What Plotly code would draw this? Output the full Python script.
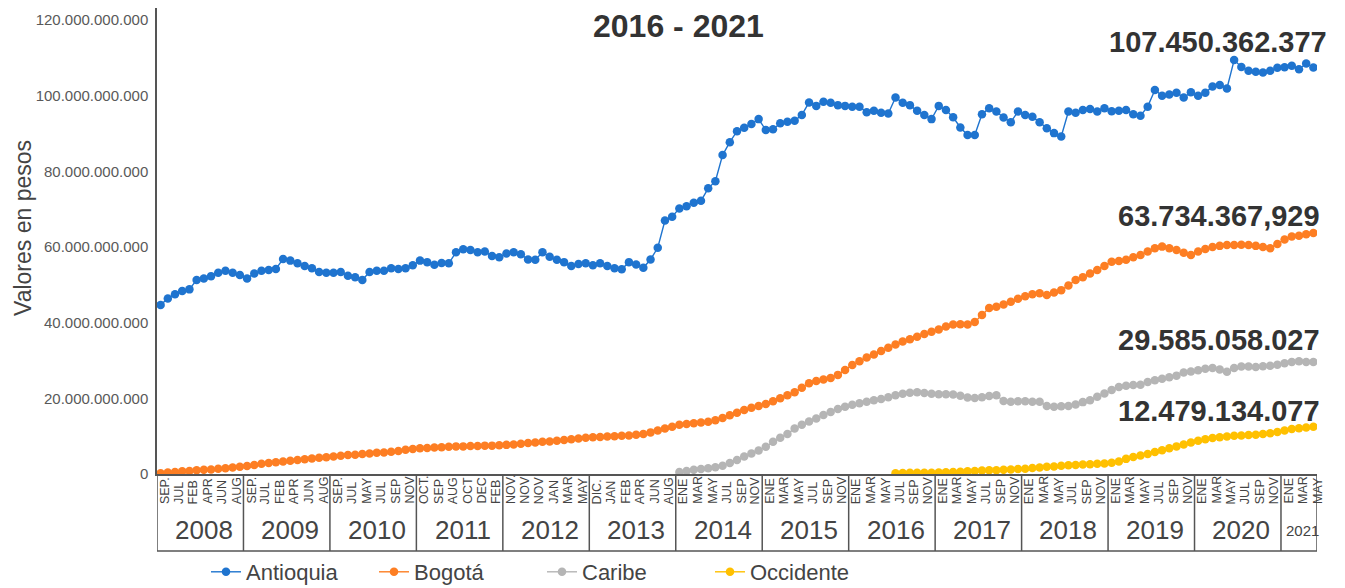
import plotly.graph_objects as go

# ---------------- data ----------------
years = ["2008", "2009", "2010", "2011", "2012", "2013", "2014",
         "2015", "2016", "2017", "2018", "2019", "2020", "2021"]
year_points = [12, 12, 12, 12, 12, 12, 12, 12, 12, 12, 12, 12, 12, 5]
month_labels = [
    ["SEP.", "JUL", "FEB", "APR", "JUN", "AUG"],
    ["SEP.", "JUL", "FEB", "APR", "JUN", "AUG"],
    ["SEP.", "JUL", "MAY", "JUL", "SEP", "NOV"],
    ["OCT.", "SEP", "AUG", "OCT", "DEC", "FEB"],
    ["NOV.", "NOV", "NOV", "JAN", "MAR", "MAY"],
    ["DIC.", "JAN", "FEB", "APR", "JUN", "AUG"],
    ["ENE", "MAR", "MAY", "JUL", "SEP", "NOV"],
    ["ENE", "MAR", "MAY", "JUL", "SEP", "NOV"],
    ["ENE", "MAR", "MAY", "JUL", "SEP", "NOV"],
    ["ENE", "MAR", "MAY", "JUL", "SEP", "NOV"],
    ["ENE", "MAR", "MAY", "JUL", "SEP", "NOV"],
    ["ENE", "MAR", "MAY", "JUL", "SEP", "NOV"],
    ["ENE", "MAR", "MAY", "JUL", "SEP", "NOV"],
    ["ENE", "MAR", "MAY"],
]

# values in miles de millones de pesos (x 1e9)
antioquia = [
    44.7, 46.4, 47.5, 48.4, 48.8, 51.3, 51.7, 52.3, 53.2, 53.7, 53.2, 52.6,
    51.7, 53.0, 53.7, 53.9, 54.2, 56.8, 56.4, 55.7, 55.0, 54.4, 53.4, 53.2,
    53.2, 53.4, 52.4, 52.0, 51.3, 53.4, 53.7, 53.7, 54.4, 54.2, 54.4, 55.2,
    56.4, 56.0, 55.3, 55.8, 55.7, 58.6, 59.4, 59.2, 58.6, 58.8, 57.6, 57.3,
    58.3, 58.6, 58.1, 56.7, 56.6, 58.6, 57.4, 56.6, 56.0, 55.0, 55.5, 55.7,
    55.2, 55.7, 55.0, 54.4, 54.1, 56.0, 55.4, 54.5, 56.7, 59.8, 67.0, 68.0,
    70.2, 70.8, 71.7, 72.2, 75.5, 77.4, 84.3, 87.7, 90.6, 91.5, 92.5, 93.8,
    90.9, 91.1, 92.7, 93.1, 93.4, 94.9, 98.2, 97.3, 98.4, 98.1, 97.5, 97.3,
    97.1, 97.1, 95.6, 96.0, 95.5, 95.3, 99.5, 98.1, 97.5, 96.0, 94.9, 93.8,
    97.3, 96.2, 94.3, 91.6, 89.6, 89.6, 95.1, 96.7, 95.8, 94.2, 93.0, 95.8,
    94.9, 94.4, 93.0, 91.4, 90.1, 89.2, 95.8, 95.5, 96.2, 96.5, 95.8, 96.7,
    95.9, 96.0, 96.2, 95.1, 94.7, 97.1, 101.5, 100.0, 100.3, 100.8, 99.5, 100.9,
    100.0, 100.8, 102.4, 102.8, 101.9, 109.4, 107.6, 106.6, 106.3, 106.1, 106.6, 107.4,
    107.5, 107.9, 107.0, 108.5, 107.45,
]
bogota = [
    0.2, 0.4, 0.5, 0.7, 0.8, 1.0, 1.1, 1.2, 1.4, 1.5, 1.7, 1.9,
    2.1, 2.4, 2.7, 2.9, 3.1, 3.3, 3.5, 3.7, 3.9, 4.1, 4.3, 4.4,
    4.6, 4.8, 5.0, 5.1, 5.3, 5.4, 5.6, 5.7, 5.9, 6.1, 6.4, 6.6,
    6.8, 6.9, 7.0, 7.1, 7.2, 7.3, 7.3, 7.4, 7.4, 7.5, 7.5, 7.6,
    7.7, 7.8, 8.0, 8.2, 8.3, 8.5, 8.6, 8.8, 9.0, 9.2, 9.4, 9.6,
    9.7, 9.8, 9.9, 10.0, 10.1, 10.2, 10.4, 10.6, 11.0, 11.5, 12.0, 12.5,
    13.0, 13.2, 13.4, 13.6, 13.8, 14.2, 14.8, 15.5, 16.2, 16.9, 17.5, 18.0,
    18.5, 19.2, 20.0, 20.8, 21.6, 22.8, 24.0, 24.6, 25.0, 25.4, 26.2, 27.5,
    28.8, 29.8, 30.8, 31.6, 32.5, 33.4, 34.2, 35.0, 35.6, 36.3, 37.0, 37.6,
    38.2, 39.0, 39.5, 39.6, 39.5, 40.2, 42.0, 43.9, 44.2, 44.8, 45.5, 46.3,
    47.0, 47.5, 47.8, 47.3, 48.0, 48.6, 49.8, 51.3, 52.0, 53.0, 53.9, 55.0,
    56.1, 56.3, 56.6, 57.3, 57.9, 58.8, 59.7, 60.1, 59.7, 59.2, 58.5, 57.9,
    58.8, 59.5, 60.0, 60.3, 60.5, 60.5, 60.6, 60.5, 60.3, 60.0, 59.7, 60.8,
    62.0, 62.8, 63.0, 63.4, 63.73,
]
caribe_start = 72  # ENE 2014
caribe = [
    0.5, 0.8, 1.1, 1.3, 1.5, 1.8, 2.2, 2.9, 3.7, 4.6, 5.4, 6.2,
    7.2, 8.5, 9.6, 10.6, 12.0, 13.0, 13.9, 14.7, 15.6, 16.4, 17.2, 17.8,
    18.3, 18.7, 19.1, 19.5, 19.8, 20.3, 20.8, 21.2, 21.5, 21.6, 21.4, 21.2,
    21.1, 21.1, 21.0, 20.7, 20.2, 20.1, 20.3, 20.6, 20.8, 19.3, 19.1, 19.2,
    19.2, 19.1, 19.1, 18.0, 17.8, 17.9, 18.0, 18.4, 19.0, 19.5, 20.4, 21.3,
    22.2, 23.0, 23.3, 23.5, 23.6, 24.3, 24.8, 25.2, 25.6, 26.0, 26.8, 27.1,
    27.4, 27.8, 28.0, 27.6, 27.0, 28.0, 28.4, 28.4, 28.3, 28.5, 28.6, 28.9,
    29.3, 29.6, 29.8, 29.6, 29.59,
]
occidente_start = 102  # JUL 2016
occidente = [
    0.2, 0.25, 0.3, 0.3, 0.3, 0.35,
    0.4, 0.45, 0.5, 0.6, 0.7, 0.8, 0.9, 1.0, 1.0, 1.1, 1.2, 1.3,
    1.4, 1.6, 1.7, 1.9, 2.0, 2.2, 2.3, 2.4, 2.5, 2.6, 2.7, 2.8,
    3.0, 3.3, 4.0, 4.5, 4.9, 5.3, 5.8, 6.3, 6.8, 7.3, 7.8, 8.3,
    8.8, 9.2, 9.5, 9.7, 9.9, 10.1, 10.2, 10.3, 10.4, 10.6, 10.8, 11.1,
    11.5, 11.9, 12.1, 12.3, 12.48,
]
last_labels = ["107.450.362.377", "63.734.367,929", "29.585.058.027", "12.479.134.077"]

y_tickvals = [0, 20, 40, 60, 80, 100, 120]
y_ticktext = ["0", "20.000.000.000", "40.000.000.000", "60.000.000.000",
              "80.000.000.000", "100.000.000.000", "120.000.000.000"]

series = [
    ("Antioquia", antioquia, 0, "#1f74cf"),
    ("Bogotá", bogota, 0, "#fd7e23"),
    ("Caribe", caribe, caribe_start, "#b5b5b5"),
    ("Occidente", occidente, occidente_start, "#ffc000"),
]

# ---------------- figure ----------------
# the page body adds an 8 px offset; positions below are in target-picture pixels
OFF = 8
n = sum(year_points)
xs = list(range(n))
B = 1e9
PLOT_TOP, PLOT_BOTTOM, PLOT_LEFT, PLOT_RIGHT = OFF, 474, 157, 1317
PLOT_H = PLOT_BOTTOM - PLOT_TOP
y_max = (PLOT_BOTTOM - PLOT_TOP) / 454.0 * 120  # 120e9 sits 454 px above zero

def py(pixel_y):
    return (PLOT_BOTTOM - pixel_y) / PLOT_H

def px(pixel_x):
    return (pixel_x - PLOT_LEFT) / (PLOT_RIGHT - PLOT_LEFT)

fig = go.Figure()
for name, vals, start, color in series:
    fig.add_trace(go.Scatter(
        x=xs[start:start + len(vals)], y=[v * B for v in vals],
        mode="lines+markers", name=name,
        line=dict(color=color, width=1.4),
        marker=dict(size=8.5, color=color),
    ))

annotations = []
shapes = []
axis_color = "#555555"
text_color = "#444444"

# month labels and year boxes
s = 0
y_box_bottom = py(551)
for yr, cnt, labs in zip(years, year_points, month_labels):
    for k, lab in enumerate(labs):
        annotations.append(dict(
            x=s + 2 * k, y=py(506), xref="x", yref="paper", text=lab,
            textangle=-90, showarrow=False, xanchor="center", yanchor="bottom",
            xshift=4, font=dict(family="Liberation Sans", size=12.5, color=text_color),
        ))
    annotations.append(dict(
        x=s + (cnt - 1) / 2 + 0.5, y=py(530), xref="x", yref="paper", text=yr,
        showarrow=False, xanchor="center", yanchor="middle",
        font=dict(family="Liberation Sans", size=26 if cnt == 12 else 15, color=text_color),
    ))
    shapes.append(dict(type="line", xref="x", yref="paper", x0=s - 0.5, x1=s - 0.5,
                       y0=0, y1=y_box_bottom, line=dict(color=axis_color, width=1.5)))
    s += cnt
shapes.append(dict(type="line", xref="x", yref="paper", x0=n - 0.5, x1=n - 0.5,
                   y0=0, y1=y_box_bottom, line=dict(color=axis_color, width=1.5)))
shapes.append(dict(type="line", xref="x", yref="paper", x0=-0.5, x1=n - 0.5,
                   y0=y_box_bottom, y1=y_box_bottom, line=dict(color=axis_color, width=1.5)))

# light frame line at the right picture edge
shapes.append(dict(type="line", xref="paper", yref="paper", x0=px(1343), x1=px(1343),
                   y0=py(OFF), y1=py(600), line=dict(color="#a8dce8", width=2)))

# end value labels (pixel placement of the text boxes)
label_right = [1329, 1322, 1322, 1322]
label_mid = [42, 216, 340, 411]
for txt, rx, my in zip(last_labels, label_right, label_mid):
    annotations.append(dict(
        x=px(rx), y=py(my), xref="paper", yref="paper", text="<b>%s</b>" % txt,
        showarrow=False, xanchor="right", yanchor="middle",
        font=dict(family="Liberation Sans", size=29, color="#333333"),
    ))

# title
annotations.append(dict(
    x=px(678), y=py(26), xref="paper", yref="paper",
    text="<b>2016 - 2021</b>", showarrow=False, xanchor="center", yanchor="middle",
    font=dict(family="Liberation Sans", size=32, color="#333333"),
))

# y axis title
annotations.append(dict(
    x=px(23), y=py(228), xref="paper", yref="paper",
    text="Valores en pesos", textangle=-90, showarrow=False,
    xanchor="center", yanchor="middle",
    font=dict(family="Liberation Sans", size=23, color=text_color),
))

W, H = 1345 - OFF, 588 - OFF
fig.update_layout(
    width=W, height=H,
    margin=dict(l=PLOT_LEFT - OFF, r=W - (PLOT_RIGHT - OFF), t=0,
                b=H - (PLOT_BOTTOM - OFF), autoexpand=False),
    paper_bgcolor="white", plot_bgcolor="white",
    showlegend=True,
    legend=dict(orientation="h", x=px(206), y=py(572), xanchor="left",
                yanchor="middle", bgcolor="rgba(0,0,0,0)",
                font=dict(family="Liberation Sans", size=22, color=text_color),
                entrywidth=123, entrywidthmode="pixels", itemclick=False),
    annotations=annotations,
    shapes=shapes,
    xaxis=dict(range=[-0.5, n - 0.5], showticklabels=False, showgrid=False,
               zeroline=False, showline=True, linecolor=axis_color, linewidth=1.5,
               ticks=""),
    yaxis=dict(range=[0, y_max * B], tickvals=[v * B for v in y_tickvals],
               ticktext=y_ticktext, showgrid=False, zeroline=False,
               showline=True, linecolor=axis_color, linewidth=1.5, ticks="",
               ticklabelstandoff=4,
               tickfont=dict(family="Liberation Sans", size=15, color="#595959")),
)

fig.write_html("out.html")
